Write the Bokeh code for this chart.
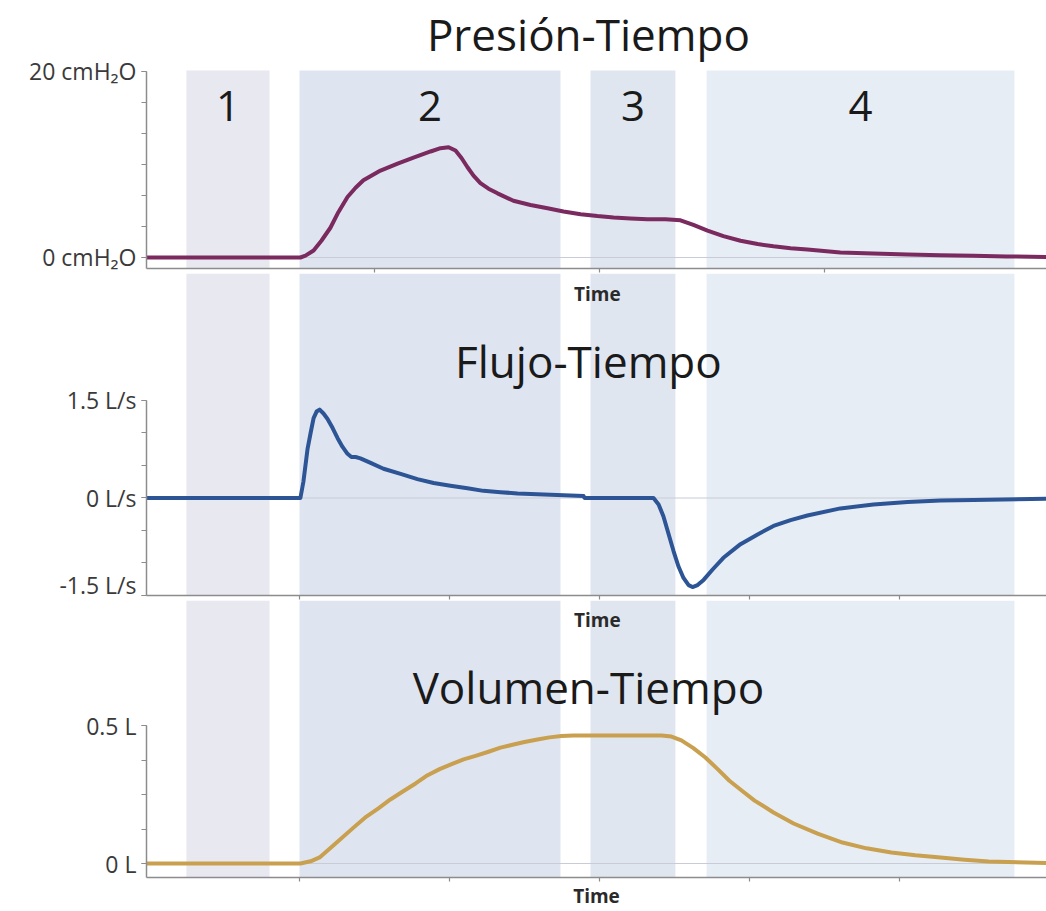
from bokeh.plotting import figure
from bokeh.models import BoxAnnotation, Span, FixedTicker, Range1d, Label, ColumnDataSource
from bokeh.layouts import column
from bokeh.embed import file_html
from bokeh.resources import INLINE
from bokeh.core.properties import value

# ---------------- data ----------------
phase_labels = ["1", "2", "3", "4"]
phase_start = [0.123, 0.500, 1.470, 1.857]
phase_end = [0.400, 1.370, 1.753, 2.883]
phase_colors = ["#e8e8f0", "#dfe5f0", "#e0e6f0", "#e7edf5"]

titles = ["Presión-Tiempo", "Flujo-Tiempo", "Volumen-Tiempo"]
x_axis_label = "Time"

pressure_ticks = [0, 20]
pressure_tick_labels = ["0 cmH₂O", "20 cmH₂O"]
flow_ticks = [-1.5, 0, 1.5]
flow_tick_labels = ["-1.5 L/s", "0 L/s", "1.5 L/s"]
volume_ticks = [0, 0.5]
volume_tick_labels = ["0 L", "0.5 L"]

pressure_t = [-0.01, 0.503, 0.52, 0.547, 0.573, 0.603, 0.63, 0.66, 0.687, 0.713, 0.77,
              0.827, 0.88, 0.937, 0.97, 0.997, 1.02, 1.04, 1.06, 1.08, 1.103, 1.13,
              1.16, 1.213, 1.27, 1.327, 1.38, 1.437, 1.493, 1.547, 1.603, 1.66, 1.72,
              1.77, 1.813, 1.86, 1.913, 1.97, 2.027, 2.08, 2.137, 2.193, 2.303, 2.413,
              2.527, 2.637, 2.747, 2.857, 2.99]
pressure_v = [0, 0, 0.2, 0.75, 1.8, 3.2, 4.9, 6.5, 7.5, 8.3, 9.35,
              10.1, 10.75, 11.4, 11.75, 11.85, 11.5, 10.7, 9.7, 8.8, 8.0, 7.4,
              6.9, 6.1, 5.65, 5.3, 4.95, 4.65, 4.45, 4.3, 4.2, 4.12, 4.1,
              4.0, 3.5, 2.9, 2.3, 1.8, 1.45, 1.2, 1.0, 0.86, 0.55, 0.42,
              0.32, 0.25, 0.2, 0.12, 0.05]

flow_t = [-0.01, 0.503, 0.513, 0.527, 0.537, 0.547, 0.557, 0.567, 0.58, 0.593, 0.61,
          0.627, 0.643, 0.66, 0.673, 0.687, 0.703, 0.737, 0.78, 0.837, 0.893, 0.947,
          1.003, 1.06, 1.113, 1.17, 1.227, 1.337, 1.447, 1.45, 1.68, 1.697, 1.713,
          1.73, 1.747, 1.763, 1.78, 1.797, 1.81, 1.827, 1.847, 1.877, 1.913, 1.97,
          2.027, 2.08, 2.137, 2.193, 2.303, 2.413, 2.527, 2.637, 2.747, 2.99]
flow_v = [0, 0, 0.25, 0.76, 1.0, 1.23, 1.33, 1.36, 1.3, 1.22, 1.08,
          0.92, 0.79, 0.68, 0.63, 0.63, 0.61, 0.54, 0.45, 0.37, 0.29, 0.23,
          0.19, 0.15, 0.11, 0.09, 0.07, 0.05, 0.03, 0, 0, -0.1, -0.28,
          -0.55, -0.82, -1.05, -1.23, -1.34, -1.37, -1.34, -1.26, -1.1, -0.92, -0.71,
          -0.56, -0.43, -0.34, -0.27, -0.16, -0.1, -0.06, -0.04, -0.03, -0.01]

volume_t = [-0.01, 0.503, 0.537, 0.567, 0.623, 0.68, 0.723, 0.763, 0.803, 0.843, 0.887,
            0.927, 0.967, 1.007, 1.047, 1.087, 1.13, 1.17, 1.21, 1.25, 1.293, 1.333,
            1.373, 1.413, 1.707, 1.74, 1.773, 1.813, 1.853, 1.893, 1.933, 1.977,
            2.017, 2.08, 2.147, 2.227, 2.31, 2.39, 2.473, 2.553, 2.637, 2.717, 2.797, 2.99]
volume_v = [0, 0, 0.008, 0.022, 0.075, 0.13, 0.17, 0.2, 0.232, 0.26, 0.29,
            0.32, 0.342, 0.36, 0.377, 0.39, 0.405, 0.42, 0.43, 0.44, 0.449, 0.457,
            0.462, 0.464, 0.464, 0.46, 0.446, 0.418, 0.384, 0.343, 0.30, 0.262,
            0.228, 0.185, 0.145, 0.108, 0.076, 0.055, 0.04, 0.03, 0.022, 0.014, 0.007, 0.002]

# ---------------- styling ----------------
FRAME_W = 900
LEFT = 146
X0, X1 = -0.01, 2.99
AXIS_COLOR = "#8c8c8c"
TEXT_COLOR = "#3a3a3a"
FONT = "Open Sans"
TIME_X = 1.493


def make_panel(frame_h, bottom_border, y0, y1, axis_lo, axis_hi, ticks, tick_labels,
               minor, xticks, title, title_y, curve_t, curve_v, color,
               band_top=None, time_label_y=None, with_axis_label=False):
    p = figure(frame_width=FRAME_W, frame_height=frame_h,
               x_range=Range1d(X0, X1), y_range=Range1d(y0, y1),
               output_backend="svg", toolbar_location=None,
               min_border_left=LEFT, min_border_right=0, min_border_top=0,
               min_border_bottom=bottom_border)
    p.outline_line_color = None
    p.xgrid.visible = False
    p.ygrid.visible = False
    p.background_fill_color = "white"
    p.border_fill_color = "white"

    for s, e, c in zip(phase_start, phase_end, phase_colors):
        kw = dict(left=s, right=e, fill_color=c, fill_alpha=1.0, line_color=None,
                  level="underlay")
        if band_top is not None:
            kw["top"] = band_top
        p.add_layout(BoxAnnotation(**kw))
    p.add_layout(Span(location=0, dimension="width", line_color="#c9ccd6",
                      line_width=1.2, level="underlay"))

    p.line(curve_t, curve_v, line_width=4, color=color, line_join="round", line_cap="round")

    ya = p.yaxis[0]
    ya.bounds = (axis_lo, axis_hi)
    ya.ticker = FixedTicker(ticks=ticks, minor_ticks=minor)
    ya.major_label_overrides = {t: l for t, l in zip(ticks, tick_labels)}
    ya.major_tick_out = 5
    ya.major_tick_in = 0
    ya.minor_tick_out = 5
    ya.minor_tick_in = 0
    ya.axis_line_color = AXIS_COLOR
    ya.axis_line_width = 1.5
    ya.major_tick_line_color = AXIS_COLOR
    ya.minor_tick_line_color = AXIS_COLOR
    ya.major_tick_line_width = 1.2
    ya.minor_tick_line_width = 1.2
    ya.major_label_text_font = FONT
    ya.major_label_text_font_size = "23px"
    ya.major_label_text_color = TEXT_COLOR
    ya.major_label_standoff = 5

    xa = p.xaxis[0]
    xa.ticker = FixedTicker(ticks=xticks, minor_ticks=[])
    xa.major_label_overrides = {t: "" for t in xticks}
    xa.major_label_text_font_size = "0px"
    xa.major_label_standoff = 0
    xa.major_tick_out = 4
    xa.major_tick_in = 0
    xa.axis_line_color = AXIS_COLOR
    xa.axis_line_width = 1.5
    xa.major_tick_line_color = AXIS_COLOR
    xa.major_tick_line_width = 1.2
    if with_axis_label:
        xa.axis_label = x_axis_label
        xa.axis_label_text_font = FONT
        xa.axis_label_text_font_size = "19px"
        xa.axis_label_text_font_style = "bold"
        xa.axis_label_text_color = "#2a2a2a"
        xa.axis_label_standoff = 1

    if time_label_y is not None:
        # axis caption of the panel above, drawn at the top of this panel
        p.add_layout(Label(x=TIME_X, y=time_label_y, text=x_axis_label, text_font=FONT,
                           text_font_size="19px", text_font_style="bold",
                           text_color="#2a2a2a", text_align="center",
                           text_baseline="alphabetic"))

    p.add_layout(Label(x=1.463, y=title_y, text=title, text_font=FONT,
                       text_font_size="44px", text_color="#1a1a1a",
                       text_align="center", text_baseline="alphabetic"))
    return p


p1 = make_panel(268, 5, -1.183, 27.634, -1.183, 20, pressure_ticks, pressure_tick_labels,
                [0, 3.333, 6.667, 10, 13.333, 16.667, 20], [0.75, 1.5, 2.25],
                titles[0], 23.98, pressure_t, pressure_v, "#7a2a5f", band_top=20.1)
centers = [(s + e) / 2 for s, e in zip(phase_start, phase_end)]
src = ColumnDataSource(dict(x=centers, y=[16.24] * 4, t=phase_labels))
p1.text(x="x", y="y", text="t", source=src, text_font=value(FONT), text_font_size="42px",
        text_color="#1a1a1a", text_align="center", text_baseline="alphabetic")

p2 = make_panel(322, 5, -1.5, 3.4538, -1.5, 1.5, flow_ticks, flow_tick_labels,
                [-1.5, -1, -0.5, 0, 0.5, 1, 1.5], [0.5, 1.0, 1.5, 2.0, 2.5],
                titles[1], 2.115, flow_t, flow_v, "#2d5596", time_label_y=3.131)

p3 = make_panel(277, 30, -0.0507, 0.9529, -0.0507, 0.5, volume_ticks, volume_tick_labels,
                [0, 0.125, 0.25, 0.375, 0.5], [0.5, 1.0, 1.5, 2.0, 2.5],
                titles[2], 0.6413, volume_t, volume_v, "#c9a04f",
                time_label_y=0.884, with_axis_label=True)

layout = column(p1, p2, p3, spacing=0)
open("out.html", "w").write(file_html(layout, INLINE))
